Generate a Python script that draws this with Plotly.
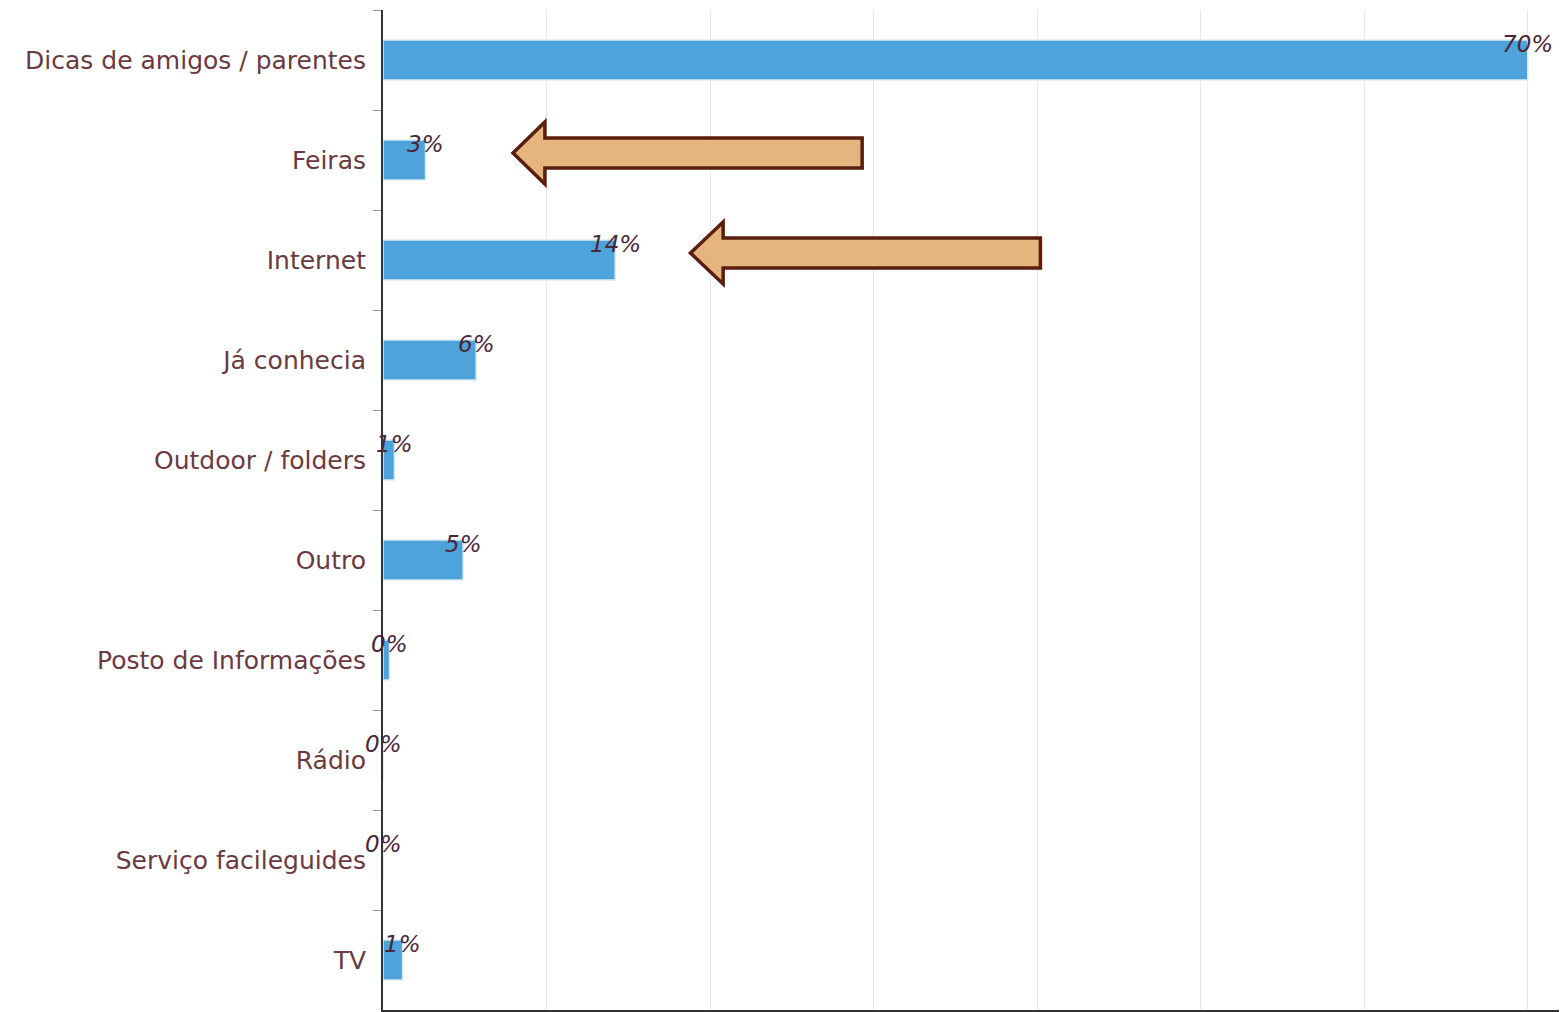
import plotly.graph_objects as go

categories = ["Dicas de amigos / parentes", "Feiras", "Internet", "Já conhecia",
              "Outdoor / folders", "Outro", "Posto de Informações", "Rádio",
              "Serviço facileguides", "TV"]
values = [70.0, 2.6, 14.2, 5.7, 0.7, 4.9, 0.4, 0.0, 0.0, 1.2]
labels = ["70%", "3%", "14%", "6%", "1%", "5%", "0%", "0%", "0%", "1%"]

# arrows: (tip x, head base x, tail x) in data units, vertical center in paper units
arrows = [(7.95, 9.9, 29.3, 0.857), (18.8, 20.8, 40.2, 0.757)]

fig = go.Figure()
fig.add_trace(go.Bar(
    x=values, y=categories, orientation="h", width=0.4,
    marker=dict(color="#4ea3da", line=dict(color="#d6ecf3", width=1.5)),
    hoverinfo="skip",
))

for v, c, t in zip(values, categories, labels):
    fig.add_annotation(x=v, y=c, text=t, showarrow=False, xanchor="center",
                       yanchor="middle", yshift=16,
                       font=dict(family="DejaVu Sans", size=23, color="#4a2838",
                                 style="italic"))

for tip, base, tail, yc in arrows:
    hh, sh = 0.031, 0.015
    path = (f"M {tip},{yc} L {base},{yc+hh} L {base},{yc+sh} L {tail},{yc+sh} "
            f"L {tail},{yc-sh} L {base},{yc-sh} L {base},{yc-hh} Z")
    fig.add_shape(type="path", path=path, xref="x", yref="paper",
                  fillcolor="#e4b57f", line=dict(color="#5a1e0e", width=3.5))

fig.update_layout(
    width=1559, height=1004,
    margin=dict(l=375, r=0, t=2, b=2),
    paper_bgcolor="white", plot_bgcolor="white",
    showlegend=False, bargap=0.6,
    font=dict(family="DejaVu Sans"),
)
fig.update_xaxes(range=[0, 72.4], showticklabels=False, ticks="",
                 showgrid=True, gridcolor="#e6e6e6", gridwidth=1, dtick=10,
                 zeroline=False, showline=True, linecolor="#333333", linewidth=2,
                 mirror=False)
fig.update_yaxes(autorange="reversed", categoryorder="array", categoryarray=categories,
                 ticks="outside", ticklen=8, tickcolor="#999999", tickson="boundaries",
                 showline=True, linecolor="#333333", linewidth=2,
                 tickfont=dict(family="DejaVu Sans", size=25, color="#6a3a40"),
                 ticklabelstandoff=10, showgrid=False)

fig.write_html("out.html")
